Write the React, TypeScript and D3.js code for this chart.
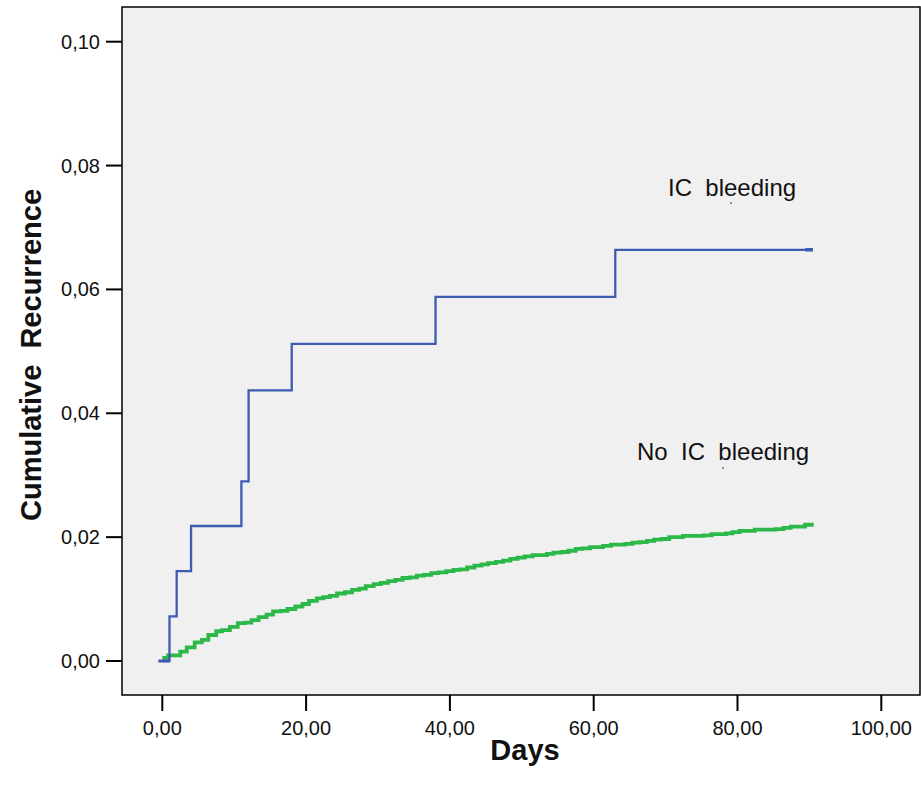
import React from "react";
import * as d3 from "d3";

const xTicks = [0, 20, 40, 60, 80, 100];
const yTicks = [0, 0.02, 0.04, 0.06, 0.08, 0.1];

const icDays = [0, 1, 2, 4, 11, 12, 18, 38, 63, 90.5];
const icValues = [0, 0.0072, 0.0145, 0.0218, 0.029, 0.0437, 0.0512, 0.0588, 0.0664, 0.0664];

const noIcDays = [0, 0.8, 2.5, 3.4, 4.5, 5.5, 6.4, 7.5, 8.3, 9.4, 10.5, 11.5, 12.4, 13.4, 14.5, 15.4, 16.5, 17.4, 18.5, 19.5, 20.4, 21.5, 22.4, 23.3, 24.3, 25.4, 26.4, 27.4, 28.3, 29.4, 30.4, 31.4, 32.4, 33.4, 34.4, 35.4, 36.4, 37.4, 38.4, 39.5, 40.5, 41.4, 42.4, 43.4, 44.4, 45.3, 46.4, 47.4, 48.4, 49.4, 50.4, 51.5, 53.5, 54.4, 55.5, 56.5, 57.5, 58.4, 59.5, 61.3, 62.4, 64.4, 65.4, 66.4, 67.4, 68.4, 69.4, 70.5, 72.4, 75.3, 76.4, 78.4, 79.3, 80.3, 82.4, 85.3, 86.4, 87.4, 89.4, 90.6];
const noIcValues = [0.0005, 0.0009, 0.0015, 0.0022, 0.003, 0.0034, 0.0042, 0.0048, 0.005, 0.0055, 0.0061, 0.0062, 0.0066, 0.0071, 0.0075, 0.008, 0.0081, 0.0084, 0.0088, 0.0092, 0.0097, 0.0101, 0.0103, 0.0105, 0.0109, 0.0111, 0.0115, 0.0117, 0.0121, 0.0124, 0.0126, 0.0129, 0.0131, 0.0134, 0.0135, 0.0138, 0.0139, 0.0142, 0.0143, 0.0145, 0.0147, 0.0148, 0.0151, 0.0154, 0.0156, 0.0158, 0.016, 0.0162, 0.0165, 0.0167, 0.0169, 0.0171, 0.0173, 0.0175, 0.0176, 0.0178, 0.0181, 0.0182, 0.0184, 0.0186, 0.0188, 0.0189, 0.0191, 0.0192, 0.0194, 0.0196, 0.0197, 0.02, 0.0202, 0.0203, 0.0205, 0.0206, 0.0208, 0.021, 0.0212, 0.0213, 0.0215, 0.0217, 0.022, 0.022];

const seriesLabels = ["IC  bleeding", "No  IC  bleeding"];
const xTitle = "Days";
const yTitle = "Cumulative  Recurrence";

const FONT = "'Liberation Sans', Arial, sans-serif";

export default function App() {
  const W = 921, H = 789;
  const frame = { left: 122, right: 920, top: 7, bottom: 695 };
  const x = d3.scaleLinear().domain([0, 100]).range([162.3, 881.3]);
  const y = d3.scaleLinear().domain([0, 0.1]).range([661, 41.7]);
  const fmt = (v: number) => d3.format(".2f")(v).replace(".", ",");

  const line = d3
    .line<[number, number]>()
    .x((d) => x(d[0]))
    .y((d) => y(d[1]))
    .curve(d3.curveStepAfter);

  const icData: [number, number][] = icDays.map((d, i) => [d, icValues[i]]);
  const noIcData: [number, number][] = noIcDays.map((d, i) => [d, noIcValues[i]]);

  const blue = "#3d5bb3";
  const green = "#2db84a";

  return (
    <svg width={W} height={H} style={{ position: "absolute", left: 0, top: 0 }} fontFamily={FONT}>
      <rect x={0} y={0} width={W} height={H} fill="#ffffff" />
      <rect
        x={frame.left}
        y={frame.top}
        width={frame.right - frame.left}
        height={frame.bottom - frame.top}
        fill="#f0f0f0"
        stroke="#000"
        strokeWidth={1.5}
      />
      {/* green series */}
      <path d={line(noIcData) || ""} fill="none" stroke={green} strokeWidth={3.8} />
      {/* blue series */}
      <path d={line(icData) || ""} fill="none" stroke={blue} strokeWidth={2.3} />
      <line x1={x(0) - 4} x2={x(1)} y1={y(0)} y2={y(0)} stroke={blue} strokeWidth={3} />
      <line x1={x(89.4)} x2={x(90.5)} y1={y(0.0664)} y2={y(0.0664)} stroke={blue} strokeWidth={3.5} />

      {/* y axis ticks */}
      {yTicks.map((t) => (
        <g key={"y" + t}>
          <line x1={106} x2={frame.left} y1={y(t)} y2={y(t)} stroke="#000" strokeWidth={2} />
          <text x={100} y={y(t)} dy="0.35em" textAnchor="end" fontSize={20} fill="#111">
            {fmt(t)}
          </text>
        </g>
      ))}
      {/* x axis ticks */}
      {xTicks.map((t) => (
        <g key={"x" + t}>
          <line x1={x(t)} x2={x(t)} y1={frame.bottom} y2={711} stroke="#000" strokeWidth={2} />
          <text x={x(t)} y={735} textAnchor="middle" fontSize={20} fill="#111">
            {fmt(t)}
          </text>
        </g>
      ))}

      {/* series labels */}
      <text x={668} y={196} fontSize={24} fill="#111" style={{ whiteSpace: "pre" }}>
        {seriesLabels[0]}
      </text>
      <line x1={730} x2={732} y1={203} y2={203} stroke="#333" strokeWidth={1} />
      <text x={637} y={460} fontSize={24} fill="#111" style={{ whiteSpace: "pre" }}>
        {seriesLabels[1]}
      </text>
      <line x1={722} x2={724} y1={468} y2={468} stroke="#333" strokeWidth={1} />

      {/* axis titles */}
      <text x={525} y={760} textAnchor="middle" fontSize={29} fontWeight="bold" fill="#111">
        {xTitle}
      </text>
      <text
        transform="translate(41,355) rotate(-90)"
        textAnchor="middle"
        fontSize={29}
        fontWeight="bold"
        fill="#111"
        style={{ whiteSpace: "pre" }}
      >
        {yTitle}
      </text>
    </svg>
  );
}
